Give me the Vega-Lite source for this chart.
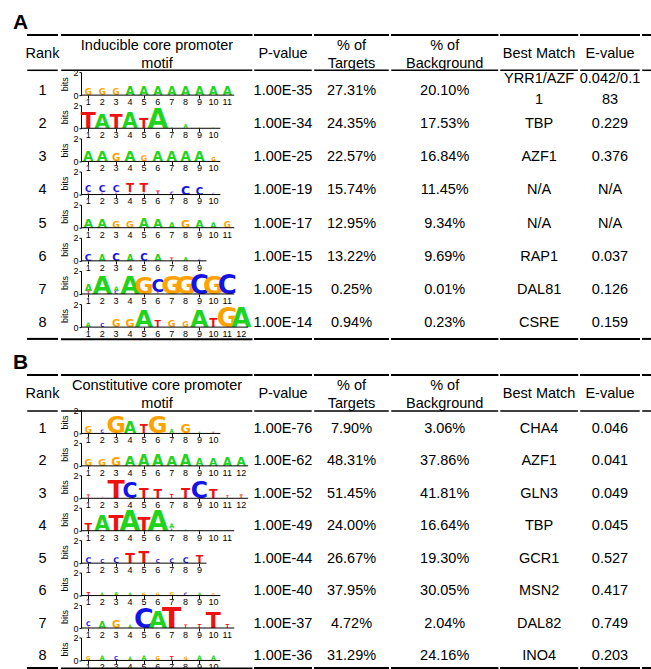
{
"$schema":"https://vega.github.io/schema/vega-lite/v6.json",
"padding":{"left":13,"top":11,"right":0,"bottom":0},
"spacing":10,
"config":{"view":{"stroke":null},"font":"Liberation Sans","text":{"fontSize":14.5,"color":"black"},"rule":{"color":"black"},
 "axis":{"grid":false,"labelFontSize":9,"labelColor":"black","tickColor":"black","domainColor":"black","titleColor":"black","labelFont":"Liberation Sans","titleFont":"Liberation Sans","titleFontSize":9,"titleFontWeight":"normal","tickSize":3,"labelPadding":0},
 "axisX":{"domain":false,"labels":false},
 "axisY":{"offset":-15,"titlePadding":3,"tickSize":2,"labelPadding":1}},
"datasets":{
"rowsA":[
{"rank":1,"p":"1.00E-35","t":"27.31%","bg":"20.10%","m":"YRR1/AZF\n1","e":"0.042/0.1\n83"},
{"rank":2,"p":"1.00E-34","t":"24.35%","bg":"17.53%","m":"TBP","e":"0.229"},
{"rank":3,"p":"1.00E-25","t":"22.57%","bg":"16.84%","m":"AZF1","e":"0.376"},
{"rank":4,"p":"1.00E-19","t":"15.74%","bg":"11.45%","m":"N/A","e":"N/A"},
{"rank":5,"p":"1.00E-17","t":"12.95%","bg":"9.34%","m":"N/A","e":"N/A"},
{"rank":6,"p":"1.00E-15","t":"13.22%","bg":"9.69%","m":"RAP1","e":"0.037"},
{"rank":7,"p":"1.00E-15","t":"0.25%","bg":"0.01%","m":"DAL81","e":"0.126"},
{"rank":8,"p":"1.00E-14","t":"0.94%","bg":"0.23%","m":"CSRE","e":"0.159"}],
"rowsB":[
{"rank":1,"p":"1.00E-76","t":"7.90%","bg":"3.06%","m":"CHA4","e":"0.046"},
{"rank":2,"p":"1.00E-62","t":"48.31%","bg":"37.86%","m":"AZF1","e":"0.041"},
{"rank":3,"p":"1.00E-52","t":"51.45%","bg":"41.81%","m":"GLN3","e":"0.049"},
{"rank":4,"p":"1.00E-49","t":"24.00%","bg":"16.64%","m":"TBP","e":"0.045"},
{"rank":5,"p":"1.00E-44","t":"26.67%","bg":"19.30%","m":"GCR1","e":"0.527"},
{"rank":6,"p":"1.00E-40","t":"37.95%","bg":"30.05%","m":"MSN2","e":"0.417"},
{"rank":7,"p":"1.00E-37","t":"4.72%","bg":"2.04%","m":"DAL82","e":"0.749"},
{"rank":8,"p":"1.00E-36","t":"31.29%","bg":"24.16%","m":"INO4","e":"0.203"}],
"lettersA":[
{"rank":1,"pos":1,"letter":"G","bits":0.55},{"rank":1,"pos":2,"letter":"G","bits":0.55},{"rank":1,"pos":3,"letter":"G","bits":0.55},
{"rank":1,"pos":4,"letter":"A","bits":0.75},{"rank":1,"pos":5,"letter":"A","bits":0.75},{"rank":1,"pos":6,"letter":"A","bits":0.75},
{"rank":1,"pos":7,"letter":"A","bits":0.75},{"rank":1,"pos":8,"letter":"A","bits":0.75},{"rank":1,"pos":9,"letter":"A","bits":0.75},
{"rank":1,"pos":10,"letter":"A","bits":0.75},{"rank":1,"pos":11,"letter":"A","bits":0.75},
{"rank":2,"pos":1,"letter":"T","bits":1.4},{"rank":2,"pos":2,"letter":"A","bits":1.25},{"rank":2,"pos":3,"letter":"T","bits":1.2},
{"rank":2,"pos":4,"letter":"A","bits":1.3},{"rank":2,"pos":5,"letter":"T","bits":0.85},{"rank":2,"pos":6,"letter":"A","bits":1.7},
{"rank":2,"pos":7,"letter":"A","bits":0.1},{"rank":2,"pos":8,"letter":"A","bits":0.35},{"rank":2,"pos":9,"letter":"G","bits":0.1},
{"rank":2,"pos":10,"letter":"G","bits":0.1},
{"rank":3,"pos":1,"letter":"A","bits":0.85},{"rank":3,"pos":2,"letter":"A","bits":0.9},{"rank":3,"pos":3,"letter":"G","bits":0.65},
{"rank":3,"pos":4,"letter":"A","bits":0.9},{"rank":3,"pos":5,"letter":"G","bits":0.5},{"rank":3,"pos":6,"letter":"A","bits":0.85},
{"rank":3,"pos":7,"letter":"A","bits":0.85},{"rank":3,"pos":8,"letter":"A","bits":0.85},{"rank":3,"pos":9,"letter":"A","bits":0.85},
{"rank":3,"pos":10,"letter":"G","bits":0.35},
{"rank":4,"pos":1,"letter":"C","bits":0.55},{"rank":4,"pos":1,"letter":"T","bits":0.2},
{"rank":4,"pos":2,"letter":"C","bits":0.6},{"rank":4,"pos":2,"letter":"T","bits":0.2},
{"rank":4,"pos":3,"letter":"C","bits":0.6},{"rank":4,"pos":3,"letter":"T","bits":0.2},
{"rank":4,"pos":4,"letter":"T","bits":0.75},{"rank":4,"pos":4,"letter":"C","bits":0.2},
{"rank":4,"pos":5,"letter":"T","bits":0.8},{"rank":4,"pos":5,"letter":"C","bits":0.2},
{"rank":4,"pos":6,"letter":"T","bits":0.4},{"rank":4,"pos":7,"letter":"C","bits":0.3},
{"rank":4,"pos":8,"letter":"C","bits":0.8},{"rank":4,"pos":9,"letter":"C","bits":0.65},{"rank":4,"pos":10,"letter":"C","bits":0.2},
{"rank":5,"pos":1,"letter":"A","bits":0.8},{"rank":5,"pos":2,"letter":"A","bits":0.8},{"rank":5,"pos":3,"letter":"G","bits":0.6},
{"rank":5,"pos":4,"letter":"G","bits":0.6},{"rank":5,"pos":5,"letter":"A","bits":0.85},{"rank":5,"pos":6,"letter":"A","bits":0.8},
{"rank":5,"pos":7,"letter":"A","bits":0.5},{"rank":5,"pos":8,"letter":"G","bits":0.7},{"rank":5,"pos":9,"letter":"A","bits":0.7},
{"rank":5,"pos":10,"letter":"A","bits":0.5},{"rank":5,"pos":11,"letter":"G","bits":0.55},
{"rank":6,"pos":1,"letter":"C","bits":0.6},{"rank":6,"pos":2,"letter":"A","bits":0.55},{"rank":6,"pos":3,"letter":"C","bits":0.65},
{"rank":6,"pos":4,"letter":"A","bits":0.55},{"rank":6,"pos":5,"letter":"C","bits":0.65},{"rank":6,"pos":6,"letter":"A","bits":0.6},
{"rank":6,"pos":7,"letter":"T","bits":0.3},{"rank":6,"pos":8,"letter":"A","bits":0.35},{"rank":6,"pos":9,"letter":"C","bits":0.2},
{"rank":7,"pos":1,"letter":"A","bits":0.6},{"rank":7,"pos":1,"letter":"T","bits":0.3},
{"rank":7,"pos":2,"letter":"A","bits":1.6},
{"rank":7,"pos":3,"letter":"A","bits":0.4},{"rank":7,"pos":3,"letter":"C","bits":0.3},
{"rank":7,"pos":4,"letter":"A","bits":1.6},{"rank":7,"pos":5,"letter":"G","bits":1.5},
{"rank":7,"pos":6,"letter":"C","bits":1.1},{"rank":7,"pos":6,"letter":"T","bits":0.2},
{"rank":7,"pos":7,"letter":"G","bits":1.6},{"rank":7,"pos":8,"letter":"G","bits":1.6},{"rank":7,"pos":9,"letter":"C","bits":1.65},
{"rank":7,"pos":10,"letter":"G","bits":1.6},{"rank":7,"pos":11,"letter":"C","bits":1.65},
{"rank":8,"pos":1,"letter":"A","bits":0.4},{"rank":8,"pos":2,"letter":"C","bits":0.35},{"rank":8,"pos":3,"letter":"G","bits":0.65},
{"rank":8,"pos":4,"letter":"G","bits":0.7},{"rank":8,"pos":5,"letter":"A","bits":1.5},{"rank":8,"pos":6,"letter":"T","bits":0.6},
{"rank":8,"pos":7,"letter":"G","bits":0.6},{"rank":8,"pos":8,"letter":"G","bits":0.5},{"rank":8,"pos":9,"letter":"A","bits":1.5},
{"rank":8,"pos":10,"letter":"T","bits":0.75},{"rank":8,"pos":11,"letter":"G","bits":1.65},{"rank":8,"pos":12,"letter":"A","bits":1.65}],
"lettersB":[
{"rank":1,"pos":1,"letter":"G","bits":0.55},{"rank":1,"pos":2,"letter":"C","bits":0.3},{"rank":1,"pos":3,"letter":"G","bits":1.5},
{"rank":1,"pos":4,"letter":"A","bits":1.0},{"rank":1,"pos":5,"letter":"T","bits":0.75},{"rank":1,"pos":6,"letter":"G","bits":1.5},
{"rank":1,"pos":7,"letter":"A","bits":0.35},{"rank":1,"pos":8,"letter":"G","bits":0.8},{"rank":1,"pos":9,"letter":"A","bits":0.15},
{"rank":1,"pos":10,"letter":"T","bits":0.2},
{"rank":2,"pos":1,"letter":"G","bits":0.6},{"rank":2,"pos":2,"letter":"G","bits":0.6},{"rank":2,"pos":3,"letter":"G","bits":0.75},
{"rank":2,"pos":4,"letter":"A","bits":0.9},{"rank":2,"pos":5,"letter":"A","bits":0.95},{"rank":2,"pos":6,"letter":"A","bits":0.95},
{"rank":2,"pos":7,"letter":"A","bits":0.9},{"rank":2,"pos":8,"letter":"A","bits":0.95},{"rank":2,"pos":9,"letter":"A","bits":0.65},
{"rank":2,"pos":10,"letter":"A","bits":0.7},{"rank":2,"pos":11,"letter":"A","bits":0.75},{"rank":2,"pos":12,"letter":"A","bits":0.8},
{"rank":3,"pos":1,"letter":"T","bits":0.3},{"rank":3,"pos":2,"letter":"T","bits":0.1},{"rank":3,"pos":3,"letter":"T","bits":1.6},
{"rank":3,"pos":4,"letter":"C","bits":1.3},{"rank":3,"pos":5,"letter":"T","bits":0.9},{"rank":3,"pos":6,"letter":"T","bits":0.8},
{"rank":3,"pos":7,"letter":"T","bits":0.35},{"rank":3,"pos":8,"letter":"T","bits":0.85},{"rank":3,"pos":9,"letter":"C","bits":1.5},
{"rank":3,"pos":10,"letter":"T","bits":0.8},{"rank":3,"pos":11,"letter":"T","bits":0.25},{"rank":3,"pos":12,"letter":"T","bits":0.3},
{"rank":4,"pos":1,"letter":"T","bits":0.7},{"rank":4,"pos":2,"letter":"A","bits":1.3},{"rank":4,"pos":3,"letter":"T","bits":1.4},
{"rank":4,"pos":4,"letter":"A","bits":1.75},{"rank":4,"pos":5,"letter":"T","bits":1.2},{"rank":4,"pos":6,"letter":"A","bits":1.75},
{"rank":4,"pos":7,"letter":"A","bits":0.4},{"rank":4,"pos":7,"letter":"T","bits":0.2},
{"rank":4,"pos":8,"letter":"A","bits":0.15},{"rank":4,"pos":9,"letter":"A","bits":0.12},{"rank":4,"pos":10,"letter":"A","bits":0.12},
{"rank":4,"pos":11,"letter":"A","bits":0.12},
{"rank":5,"pos":1,"letter":"C","bits":0.5},{"rank":5,"pos":2,"letter":"C","bits":0.35},{"rank":5,"pos":3,"letter":"C","bits":0.5},
{"rank":5,"pos":4,"letter":"T","bits":0.9},{"rank":5,"pos":5,"letter":"T","bits":1.0},{"rank":5,"pos":6,"letter":"C","bits":0.35},
{"rank":5,"pos":7,"letter":"C","bits":0.4},{"rank":5,"pos":8,"letter":"C","bits":0.5},{"rank":5,"pos":9,"letter":"T","bits":0.7},
{"rank":6,"pos":1,"letter":"T","bits":0.35},{"rank":6,"pos":2,"letter":"A","bits":0.3},{"rank":6,"pos":3,"letter":"A","bits":0.35},
{"rank":6,"pos":4,"letter":"A","bits":0.3},{"rank":6,"pos":5,"letter":"G","bits":0.3},{"rank":6,"pos":6,"letter":"G","bits":0.3},
{"rank":6,"pos":7,"letter":"G","bits":0.35},{"rank":6,"pos":8,"letter":"C","bits":0.3},{"rank":6,"pos":9,"letter":"A","bits":0.3},
{"rank":6,"pos":10,"letter":"G","bits":0.25},
{"rank":7,"pos":1,"letter":"C","bits":0.4},{"rank":7,"pos":1,"letter":"T","bits":0.15},
{"rank":7,"pos":2,"letter":"A","bits":0.6},{"rank":7,"pos":3,"letter":"G","bits":0.65},{"rank":7,"pos":4,"letter":"A","bits":0.3},
{"rank":7,"pos":5,"letter":"C","bits":1.7},{"rank":7,"pos":6,"letter":"A","bits":1.5},{"rank":7,"pos":7,"letter":"T","bits":1.8},
{"rank":7,"pos":8,"letter":"T","bits":0.3},{"rank":7,"pos":9,"letter":"T","bits":0.35},{"rank":7,"pos":10,"letter":"T","bits":1.4},
{"rank":7,"pos":11,"letter":"T","bits":0.35},
{"rank":8,"pos":1,"letter":"G","bits":0.35},{"rank":8,"pos":2,"letter":"A","bits":0.4},{"rank":8,"pos":3,"letter":"C","bits":0.35},
{"rank":8,"pos":4,"letter":"A","bits":0.3},{"rank":8,"pos":5,"letter":"A","bits":0.4},{"rank":8,"pos":6,"letter":"G","bits":0.35},
{"rank":8,"pos":7,"letter":"T","bits":0.35},{"rank":8,"pos":8,"letter":"G","bits":0.3},{"rank":8,"pos":9,"letter":"A","bits":0.4},
{"rank":8,"pos":10,"letter":"A","bits":0.4}]
},
"vconcat":[
{"title":{"text":"A","anchor":"start","frame":"group","fontSize":21,"fontWeight":"bold","dx":-15,"offset":1},
 "spacing":0,
 "hconcat":[
  {"width":29,"height":303.9,"layer":[
    {"data":{"values":[{}]},"layer":[
      {"mark":{"type":"rule","strokeWidth":2,"strokeCap":"square"},"encoding":{"y":{"datum":-0.69,"type":"quantitative","scale":{"domain":[-0.69,8.48],"reverse":true,"nice":false,"zero":false},"axis":null}}},
      {"mark":{"type":"rule","strokeWidth":1.5,"strokeCap":"square"},"encoding":{"y":{"datum":0.375,"type":"quantitative","axis":null}}},
      {"mark":{"type":"rule","strokeWidth":2,"strokeCap":"square"},"encoding":{"y":{"datum":8.48,"type":"quantitative","axis":null}}},
      {"mark":{"type":"text"},"encoding":{"y":{"datum":-0.107,"type":"quantitative","axis":null},"text":{"value":"Rank"}}}]},
    {"data":{"name":"rowsA"},"mark":{"type":"text"},"encoding":{"y":{"field":"rank","type":"quantitative","axis":null},"text":{"field":"rank"}}}]},
  {"spacing":10.14,"bounds":"flush","vconcat":[
    {"width":182,"height":26.86,"data":{"values":[{}]},"layer":[
      {"mark":{"type":"rule","strokeWidth":2,"strokeCap":"square"},"encoding":{"x":{"datum":-0.892,"type":"quantitative","scale":{"domain":[-0.604,12.49],"nice":false,"zero":false},"axis":null},"x2":{"datum":12.741},"y":{"datum":-0.69,"type":"quantitative","scale":{"domain":[-0.69,0.1205],"reverse":true,"nice":false,"zero":false},"axis":null}}},
      {"mark":{"type":"rule","strokeWidth":1.5,"strokeCap":"square"},"encoding":{"x":{"datum":-0.892,"type":"quantitative","axis":null},"x2":{"datum":12.741},"y":{"datum":0.375,"type":"quantitative","axis":null}}},
      {"mark":{"type":"text","lineHeight":18},"encoding":{"y":{"datum":-0.358,"type":"quantitative","axis":null},"text":{"value":["Inducible core promoter","motif"]}}}]},
    {"width":182,"height":23,"layer":[
      {"data":{"name":"lettersA"},"transform":[{"filter":"datum.rank == 1"},{"stack":"bits","groupby":["pos"],"sort":[{"field":"bits","order":"ascending"}],"as":["b0","b1"]}],
       "mark":{"type":"text","baseline":"alphabetic","fontWeight":"bold","font":"DejaVu Sans"},
       "encoding":{"x":{"field":"pos","type":"quantitative","scale":{"domain":[-0.604,12.49],"nice":false,"zero":false},"axis":{"values":[1,2,3,4,5,6,7,8,9,10,11],"title":null}},
        "y":{"field":"b0","type":"quantitative","scale":{"domain":[0,2],"nice":false},"axis":{"values":[0,1,2],"title":"bits"}},
        "text":{"field":"letter"},"size":{"field":"bits","type":"quantitative","scale":{"domain":[0,2],"range":[0,31.5]},"legend":null},
        "color":{"field":"letter","type":"nominal","scale":{"domain":["A","C","G","T"],"range":["#1ed41e","#1414e6","#ffa200","#ee1111"]},"legend":null}}},
      {"data":{"name":"lettersA"},"transform":[{"filter":"datum.rank == 1"},{"aggregate":[{"op":"count","as":"n"}],"groupby":["pos"]}],
       "mark":{"type":"text","fontSize":9,"baseline":"top"},"encoding":{"x":{"field":"pos","type":"quantitative","title":null},"y":{"datum":-0.25},"text":{"field":"pos"}}},
      {"data":{"values":[{}]},"mark":{"type":"rule","strokeWidth":1},"encoding":{"x":{"datum":0.475},"x2":{"datum":11.5},"y":{"datum":0}}}]},
    {"width":182,"height":23,"layer":[
      {"data":{"name":"lettersA"},"transform":[{"filter":"datum.rank == 2"},{"stack":"bits","groupby":["pos"],"sort":[{"field":"bits","order":"ascending"}],"as":["b0","b1"]}],
       "mark":{"type":"text","baseline":"alphabetic","fontWeight":"bold","font":"DejaVu Sans"},
       "encoding":{"x":{"field":"pos","type":"quantitative","scale":{"domain":[-0.604,12.49],"nice":false,"zero":false},"axis":{"values":[1,2,3,4,5,6,7,8,9,10],"title":null}},
        "y":{"field":"b0","type":"quantitative","scale":{"domain":[0,2],"nice":false},"axis":{"values":[0,1,2],"title":"bits"}},
        "text":{"field":"letter"},"size":{"field":"bits","type":"quantitative","scale":{"domain":[0,2],"range":[0,31.5]},"legend":null},
        "color":{"field":"letter","type":"nominal","scale":{"domain":["A","C","G","T"],"range":["#1ed41e","#1414e6","#ffa200","#ee1111"]},"legend":null}}},
      {"data":{"name":"lettersA"},"transform":[{"filter":"datum.rank == 2"},{"aggregate":[{"op":"count","as":"n"}],"groupby":["pos"]}],
       "mark":{"type":"text","fontSize":9,"baseline":"top"},"encoding":{"x":{"field":"pos","type":"quantitative","title":null},"y":{"datum":-0.25},"text":{"field":"pos"}}},
      {"data":{"values":[{}]},"mark":{"type":"rule","strokeWidth":1},"encoding":{"x":{"datum":0.475},"x2":{"datum":10.5},"y":{"datum":0}}}]},
    {"width":182,"height":23,"layer":[
      {"data":{"name":"lettersA"},"transform":[{"filter":"datum.rank == 3"},{"stack":"bits","groupby":["pos"],"sort":[{"field":"bits","order":"ascending"}],"as":["b0","b1"]}],
       "mark":{"type":"text","baseline":"alphabetic","fontWeight":"bold","font":"DejaVu Sans"},
       "encoding":{"x":{"field":"pos","type":"quantitative","scale":{"domain":[-0.604,12.49],"nice":false,"zero":false},"axis":{"values":[1,2,3,4,5,6,7,8,9,10],"title":null}},
        "y":{"field":"b0","type":"quantitative","scale":{"domain":[0,2],"nice":false},"axis":{"values":[0,1,2],"title":"bits"}},
        "text":{"field":"letter"},"size":{"field":"bits","type":"quantitative","scale":{"domain":[0,2],"range":[0,31.5]},"legend":null},
        "color":{"field":"letter","type":"nominal","scale":{"domain":["A","C","G","T"],"range":["#1ed41e","#1414e6","#ffa200","#ee1111"]},"legend":null}}},
      {"data":{"name":"lettersA"},"transform":[{"filter":"datum.rank == 3"},{"aggregate":[{"op":"count","as":"n"}],"groupby":["pos"]}],
       "mark":{"type":"text","fontSize":9,"baseline":"top"},"encoding":{"x":{"field":"pos","type":"quantitative","title":null},"y":{"datum":-0.25},"text":{"field":"pos"}}},
      {"data":{"values":[{}]},"mark":{"type":"rule","strokeWidth":1},"encoding":{"x":{"datum":0.475},"x2":{"datum":10.5},"y":{"datum":0}}}]},
    {"width":182,"height":23,"layer":[
      {"data":{"name":"lettersA"},"transform":[{"filter":"datum.rank == 4"},{"stack":"bits","groupby":["pos"],"sort":[{"field":"bits","order":"ascending"}],"as":["b0","b1"]}],
       "mark":{"type":"text","baseline":"alphabetic","fontWeight":"bold","font":"DejaVu Sans"},
       "encoding":{"x":{"field":"pos","type":"quantitative","scale":{"domain":[-0.604,12.49],"nice":false,"zero":false},"axis":{"values":[1,2,3,4,5,6,7,8,9,10],"title":null}},
        "y":{"field":"b0","type":"quantitative","scale":{"domain":[0,2],"nice":false},"axis":{"values":[0,1,2],"title":"bits"}},
        "text":{"field":"letter"},"size":{"field":"bits","type":"quantitative","scale":{"domain":[0,2],"range":[0,31.5]},"legend":null},
        "color":{"field":"letter","type":"nominal","scale":{"domain":["A","C","G","T"],"range":["#1ed41e","#1414e6","#ffa200","#ee1111"]},"legend":null}}},
      {"data":{"name":"lettersA"},"transform":[{"filter":"datum.rank == 4"},{"aggregate":[{"op":"count","as":"n"}],"groupby":["pos"]}],
       "mark":{"type":"text","fontSize":9,"baseline":"top"},"encoding":{"x":{"field":"pos","type":"quantitative","title":null},"y":{"datum":-0.25},"text":{"field":"pos"}}},
      {"data":{"values":[{}]},"mark":{"type":"rule","strokeWidth":1},"encoding":{"x":{"datum":0.475},"x2":{"datum":10.5},"y":{"datum":0}}}]},
    {"width":182,"height":23,"layer":[
      {"data":{"name":"lettersA"},"transform":[{"filter":"datum.rank == 5"},{"stack":"bits","groupby":["pos"],"sort":[{"field":"bits","order":"ascending"}],"as":["b0","b1"]}],
       "mark":{"type":"text","baseline":"alphabetic","fontWeight":"bold","font":"DejaVu Sans"},
       "encoding":{"x":{"field":"pos","type":"quantitative","scale":{"domain":[-0.604,12.49],"nice":false,"zero":false},"axis":{"values":[1,2,3,4,5,6,7,8,9,10,11],"title":null}},
        "y":{"field":"b0","type":"quantitative","scale":{"domain":[0,2],"nice":false},"axis":{"values":[0,1,2],"title":"bits"}},
        "text":{"field":"letter"},"size":{"field":"bits","type":"quantitative","scale":{"domain":[0,2],"range":[0,31.5]},"legend":null},
        "color":{"field":"letter","type":"nominal","scale":{"domain":["A","C","G","T"],"range":["#1ed41e","#1414e6","#ffa200","#ee1111"]},"legend":null}}},
      {"data":{"name":"lettersA"},"transform":[{"filter":"datum.rank == 5"},{"aggregate":[{"op":"count","as":"n"}],"groupby":["pos"]}],
       "mark":{"type":"text","fontSize":9,"baseline":"top"},"encoding":{"x":{"field":"pos","type":"quantitative","title":null},"y":{"datum":-0.25},"text":{"field":"pos"}}},
      {"data":{"values":[{}]},"mark":{"type":"rule","strokeWidth":1},"encoding":{"x":{"datum":0.475},"x2":{"datum":11.5},"y":{"datum":0}}}]},
    {"width":182,"height":23,"layer":[
      {"data":{"name":"lettersA"},"transform":[{"filter":"datum.rank == 6"},{"stack":"bits","groupby":["pos"],"sort":[{"field":"bits","order":"ascending"}],"as":["b0","b1"]}],
       "mark":{"type":"text","baseline":"alphabetic","fontWeight":"bold","font":"DejaVu Sans"},
       "encoding":{"x":{"field":"pos","type":"quantitative","scale":{"domain":[-0.604,12.49],"nice":false,"zero":false},"axis":{"values":[1,2,3,4,5,6,7,8,9],"title":null}},
        "y":{"field":"b0","type":"quantitative","scale":{"domain":[0,2],"nice":false},"axis":{"values":[0,1,2],"title":"bits"}},
        "text":{"field":"letter"},"size":{"field":"bits","type":"quantitative","scale":{"domain":[0,2],"range":[0,31.5]},"legend":null},
        "color":{"field":"letter","type":"nominal","scale":{"domain":["A","C","G","T"],"range":["#1ed41e","#1414e6","#ffa200","#ee1111"]},"legend":null}}},
      {"data":{"name":"lettersA"},"transform":[{"filter":"datum.rank == 6"},{"aggregate":[{"op":"count","as":"n"}],"groupby":["pos"]}],
       "mark":{"type":"text","fontSize":9,"baseline":"top"},"encoding":{"x":{"field":"pos","type":"quantitative","title":null},"y":{"datum":-0.25},"text":{"field":"pos"}}},
      {"data":{"values":[{}]},"mark":{"type":"rule","strokeWidth":1},"encoding":{"x":{"datum":0.475},"x2":{"datum":9.5},"y":{"datum":0}}}]},
    {"width":182,"height":23,"layer":[
      {"data":{"name":"lettersA"},"transform":[{"filter":"datum.rank == 7"},{"stack":"bits","groupby":["pos"],"sort":[{"field":"bits","order":"ascending"}],"as":["b0","b1"]}],
       "mark":{"type":"text","baseline":"alphabetic","fontWeight":"bold","font":"DejaVu Sans"},
       "encoding":{"x":{"field":"pos","type":"quantitative","scale":{"domain":[-0.604,12.49],"nice":false,"zero":false},"axis":{"values":[1,2,3,4,5,6,7,8,9,10,11],"title":null}},
        "y":{"field":"b0","type":"quantitative","scale":{"domain":[0,2],"nice":false},"axis":{"values":[0,1,2],"title":"bits"}},
        "text":{"field":"letter"},"size":{"field":"bits","type":"quantitative","scale":{"domain":[0,2],"range":[0,31.5]},"legend":null},
        "color":{"field":"letter","type":"nominal","scale":{"domain":["A","C","G","T"],"range":["#1ed41e","#1414e6","#ffa200","#ee1111"]},"legend":null}}},
      {"data":{"name":"lettersA"},"transform":[{"filter":"datum.rank == 7"},{"aggregate":[{"op":"count","as":"n"}],"groupby":["pos"]}],
       "mark":{"type":"text","fontSize":9,"baseline":"top"},"encoding":{"x":{"field":"pos","type":"quantitative","title":null},"y":{"datum":-0.25},"text":{"field":"pos"}}},
      {"data":{"values":[{}]},"mark":{"type":"rule","strokeWidth":1},"encoding":{"x":{"datum":0.475},"x2":{"datum":11.5},"y":{"datum":0}}}]},
    {"width":182,"height":23,"layer":[
      {"data":{"name":"lettersA"},"transform":[{"filter":"datum.rank == 8"},{"stack":"bits","groupby":["pos"],"sort":[{"field":"bits","order":"ascending"}],"as":["b0","b1"]}],
       "mark":{"type":"text","baseline":"alphabetic","fontWeight":"bold","font":"DejaVu Sans"},
       "encoding":{"x":{"field":"pos","type":"quantitative","scale":{"domain":[-0.604,12.49],"nice":false,"zero":false},"axis":{"values":[1,2,3,4,5,6,7,8,9,10,11,12],"title":null}},
        "y":{"field":"b0","type":"quantitative","scale":{"domain":[0,2],"nice":false},"axis":{"values":[0,1,2],"title":"bits"}},
        "text":{"field":"letter"},"size":{"field":"bits","type":"quantitative","scale":{"domain":[0,2],"range":[0,31.5]},"legend":null},
        "color":{"field":"letter","type":"nominal","scale":{"domain":["A","C","G","T"],"range":["#1ed41e","#1414e6","#ffa200","#ee1111"]},"legend":null}}},
      {"data":{"name":"lettersA"},"transform":[{"filter":"datum.rank == 8"},{"aggregate":[{"op":"count","as":"n"}],"groupby":["pos"]}],
       "mark":{"type":"text","fontSize":9,"baseline":"top"},"encoding":{"x":{"field":"pos","type":"quantitative","title":null},"y":{"datum":-0.25},"text":{"field":"pos"}}},
      {"data":{"values":[{}]},"mark":{"type":"rule","strokeWidth":1},"encoding":{"x":{"datum":0.475},"x2":{"datum":12.5},"y":{"datum":0}}},
      {"data":{"values":[{}]},"mark":{"type":"rule","strokeWidth":2,"strokeCap":"square"},"encoding":{"x":{"datum":-0.892},"x2":{"datum":12.741},"y":{"datum":-1.045}}}]}
  ]},
  {"width":56,"height":303.9,"layer":[
    {"data":{"values":[{}]},"layer":[
      {"mark":{"type":"rule","strokeWidth":2,"strokeCap":"square"},"encoding":{"y":{"datum":-0.69,"type":"quantitative","scale":{"domain":[-0.69,8.48],"reverse":true,"nice":false,"zero":false},"axis":null}}},
      {"mark":{"type":"rule","strokeWidth":1.5,"strokeCap":"square"},"encoding":{"y":{"datum":0.375,"type":"quantitative","axis":null}}},
      {"mark":{"type":"rule","strokeWidth":2,"strokeCap":"square"},"encoding":{"y":{"datum":8.48,"type":"quantitative","axis":null}}},
      {"mark":{"type":"text"},"encoding":{"y":{"datum":-0.107,"type":"quantitative","axis":null},"text":{"value":"P-value"}}}]},
    {"data":{"name":"rowsA"},"mark":{"type":"text"},"encoding":{"y":{"field":"rank","type":"quantitative","axis":null},"text":{"field":"p"}}}]},
  {"width":73,"height":303.9,"layer":[
    {"data":{"values":[{}]},"layer":[
      {"mark":{"type":"rule","strokeWidth":2,"strokeCap":"square"},"encoding":{"y":{"datum":-0.69,"type":"quantitative","scale":{"domain":[-0.69,8.48],"reverse":true,"nice":false,"zero":false},"axis":null}}},
      {"mark":{"type":"rule","strokeWidth":1.5,"strokeCap":"square"},"encoding":{"y":{"datum":0.375,"type":"quantitative","axis":null}}},
      {"mark":{"type":"rule","strokeWidth":2,"strokeCap":"square"},"encoding":{"y":{"datum":8.48,"type":"quantitative","axis":null}}},
      {"mark":{"type":"text","lineHeight":18},"encoding":{"y":{"datum":-0.358,"type":"quantitative","axis":null},"text":{"value":["% of","Targets"]}}}]},
    {"data":{"name":"rowsA"},"mark":{"type":"text"},"encoding":{"y":{"field":"rank","type":"quantitative","axis":null},"text":{"field":"t"}}}]},
  {"width":105.4,"height":303.9,"layer":[
    {"data":{"values":[{}]},"layer":[
      {"mark":{"type":"rule","strokeWidth":2,"strokeCap":"square"},"encoding":{"y":{"datum":-0.69,"type":"quantitative","scale":{"domain":[-0.69,8.48],"reverse":true,"nice":false,"zero":false},"axis":null}}},
      {"mark":{"type":"rule","strokeWidth":1.5,"strokeCap":"square"},"encoding":{"y":{"datum":0.375,"type":"quantitative","axis":null}}},
      {"mark":{"type":"rule","strokeWidth":2,"strokeCap":"square"},"encoding":{"y":{"datum":8.48,"type":"quantitative","axis":null}}},
      {"mark":{"type":"text","lineHeight":18},"encoding":{"y":{"datum":-0.358,"type":"quantitative","axis":null},"text":{"value":["% of","Background"]}}}]},
    {"data":{"name":"rowsA"},"mark":{"type":"text"},"encoding":{"y":{"field":"rank","type":"quantitative","axis":null},"text":{"field":"bg"}}}]},
  {"width":76.2,"height":303.9,"layer":[
    {"data":{"values":[{}]},"layer":[
      {"mark":{"type":"rule","strokeWidth":2,"strokeCap":"square"},"encoding":{"y":{"datum":-0.69,"type":"quantitative","scale":{"domain":[-0.69,8.48],"reverse":true,"nice":false,"zero":false},"axis":null}}},
      {"mark":{"type":"rule","strokeWidth":1.5,"strokeCap":"square"},"encoding":{"y":{"datum":0.375,"type":"quantitative","axis":null}}},
      {"mark":{"type":"rule","strokeWidth":2,"strokeCap":"square"},"encoding":{"y":{"datum":8.48,"type":"quantitative","axis":null}}},
      {"mark":{"type":"text"},"encoding":{"y":{"datum":-0.107,"type":"quantitative","axis":null},"text":{"value":"Best Match"}}}]},
    {"data":{"name":"rowsA"},"transform":[{"filter":"indexof(datum.m, '\\n') < 0"}],"mark":{"type":"text"},"encoding":{"y":{"field":"rank","type":"quantitative","axis":null},"text":{"field":"m"}}},
    {"data":{"name":"rowsA"},"transform":[{"filter":"indexof(datum.m, '\\n') >= 0"}],"mark":{"type":"text","lineBreak":"\n","lineHeight":21,"dy":-12},"encoding":{"y":{"field":"rank","type":"quantitative","axis":null},"text":{"field":"m"}}}]},
  {"width":58,"height":303.9,"layer":[
    {"data":{"values":[{}]},"layer":[
      {"mark":{"type":"rule","strokeWidth":2,"strokeCap":"square"},"encoding":{"y":{"datum":-0.69,"type":"quantitative","scale":{"domain":[-0.69,8.48],"reverse":true,"nice":false,"zero":false},"axis":null}}},
      {"mark":{"type":"rule","strokeWidth":1.5,"strokeCap":"square"},"encoding":{"y":{"datum":0.375,"type":"quantitative","axis":null}}},
      {"mark":{"type":"rule","strokeWidth":2,"strokeCap":"square"},"encoding":{"y":{"datum":8.48,"type":"quantitative","axis":null}}},
      {"mark":{"type":"text"},"encoding":{"y":{"datum":-0.107,"type":"quantitative","axis":null},"text":{"value":"E-value"}}}]},
    {"data":{"name":"rowsA"},"transform":[{"filter":"indexof(datum.e, '\\n') < 0"}],"mark":{"type":"text"},"encoding":{"y":{"field":"rank","type":"quantitative","axis":null},"text":{"field":"e"}}},
    {"data":{"name":"rowsA"},"transform":[{"filter":"indexof(datum.e, '\\n') >= 0"}],"mark":{"type":"text","lineBreak":"\n","lineHeight":21,"dy":-12},"encoding":{"y":{"field":"rank","type":"quantitative","axis":null},"text":{"field":"e"}}}]},
  {"width":22.1,"height":303.9,"data":{"values":[{}]},"layer":[
      {"mark":{"type":"rule","strokeWidth":2,"strokeCap":"square"},"encoding":{"y":{"datum":-0.69,"type":"quantitative","scale":{"domain":[-0.69,8.48],"reverse":true,"nice":false,"zero":false},"axis":null}}},
      {"mark":{"type":"rule","strokeWidth":1.5,"strokeCap":"square"},"encoding":{"y":{"datum":0.375,"type":"quantitative","axis":null}}},
      {"mark":{"type":"rule","strokeWidth":2,"strokeCap":"square"},"encoding":{"y":{"datum":8.48,"type":"quantitative","axis":null}}}]}
 ]},
{"title":{"text":"B","anchor":"start","frame":"group","fontSize":21,"fontWeight":"bold","dx":-15,"offset":1},
 "spacing":0,
 "hconcat":[
  {"width":29,"height":293,"layer":[
    {"data":{"values":[{}]},"layer":[
      {"mark":{"type":"rule","strokeWidth":2,"strokeCap":"square"},"encoding":{"y":{"datum":-0.665,"type":"quantitative","scale":{"domain":[-0.665,8.37],"reverse":true,"nice":false,"zero":false},"axis":null}}},
      {"mark":{"type":"rule","strokeWidth":1.5,"strokeCap":"square"},"encoding":{"y":{"datum":0.445,"type":"quantitative","axis":null}}},
      {"mark":{"type":"rule","strokeWidth":2,"strokeCap":"square"},"encoding":{"y":{"datum":8.37,"type":"quantitative","axis":null}}},
      {"mark":{"type":"text"},"encoding":{"y":{"datum":-0.064,"type":"quantitative","axis":null},"text":{"value":"Rank"}}}]},
    {"data":{"name":"rowsB"},"mark":{"type":"text"},"encoding":{"y":{"field":"rank","type":"quantitative","axis":null},"text":{"field":"rank"}}}]},
  {"spacing":9.43,"bounds":"flush","vconcat":[
    {"width":182,"height":25.57,"data":{"values":[{}]},"layer":[
      {"mark":{"type":"rule","strokeWidth":2,"strokeCap":"square"},"encoding":{"x":{"datum":-0.892,"type":"quantitative","scale":{"domain":[-0.604,12.49],"nice":false,"zero":false},"axis":null},"x2":{"datum":12.741},"y":{"datum":-0.665,"type":"quantitative","scale":{"domain":[-0.665,0.1235],"reverse":true,"nice":false,"zero":false},"axis":null}}},
      {"mark":{"type":"rule","strokeWidth":1.5,"strokeCap":"square"},"encoding":{"x":{"datum":-0.892,"type":"quantitative","axis":null},"x2":{"datum":12.741},"y":{"datum":0.445,"type":"quantitative","axis":null}}},
      {"mark":{"type":"text","lineHeight":18},"encoding":{"y":{"datum":-0.326,"type":"quantitative","axis":null},"text":{"value":["Constitutive core promoter","motif"]}}}]},
    {"width":182,"height":23,"layer":[
      {"data":{"name":"lettersB"},"transform":[{"filter":"datum.rank == 1"},{"stack":"bits","groupby":["pos"],"sort":[{"field":"bits","order":"ascending"}],"as":["b0","b1"]}],
       "mark":{"type":"text","baseline":"alphabetic","fontWeight":"bold","font":"DejaVu Sans"},
       "encoding":{"x":{"field":"pos","type":"quantitative","scale":{"domain":[-0.604,12.49],"nice":false,"zero":false},"axis":{"values":[1,2,3,4,5,6,7,8,9,10],"title":null}},
        "y":{"field":"b0","type":"quantitative","scale":{"domain":[0,2],"nice":false},"axis":{"values":[0,1,2],"title":"bits"}},
        "text":{"field":"letter"},"size":{"field":"bits","type":"quantitative","scale":{"domain":[0,2],"range":[0,31.5]},"legend":null},
        "color":{"field":"letter","type":"nominal","scale":{"domain":["A","C","G","T"],"range":["#1ed41e","#1414e6","#ffa200","#ee1111"]},"legend":null}}},
      {"data":{"name":"lettersB"},"transform":[{"filter":"datum.rank == 1"},{"aggregate":[{"op":"count","as":"n"}],"groupby":["pos"]}],
       "mark":{"type":"text","fontSize":9,"baseline":"top"},"encoding":{"x":{"field":"pos","type":"quantitative","title":null},"y":{"datum":-0.25},"text":{"field":"pos"}}},
      {"data":{"values":[{}]},"mark":{"type":"rule","strokeWidth":1},"encoding":{"x":{"datum":0.475},"x2":{"datum":10.5},"y":{"datum":0}}}]},
    {"width":182,"height":23,"layer":[
      {"data":{"name":"lettersB"},"transform":[{"filter":"datum.rank == 2"},{"stack":"bits","groupby":["pos"],"sort":[{"field":"bits","order":"ascending"}],"as":["b0","b1"]}],
       "mark":{"type":"text","baseline":"alphabetic","fontWeight":"bold","font":"DejaVu Sans"},
       "encoding":{"x":{"field":"pos","type":"quantitative","scale":{"domain":[-0.604,12.49],"nice":false,"zero":false},"axis":{"values":[1,2,3,4,5,6,7,8,9,10,11,12],"title":null}},
        "y":{"field":"b0","type":"quantitative","scale":{"domain":[0,2],"nice":false},"axis":{"values":[0,1,2],"title":"bits"}},
        "text":{"field":"letter"},"size":{"field":"bits","type":"quantitative","scale":{"domain":[0,2],"range":[0,31.5]},"legend":null},
        "color":{"field":"letter","type":"nominal","scale":{"domain":["A","C","G","T"],"range":["#1ed41e","#1414e6","#ffa200","#ee1111"]},"legend":null}}},
      {"data":{"name":"lettersB"},"transform":[{"filter":"datum.rank == 2"},{"aggregate":[{"op":"count","as":"n"}],"groupby":["pos"]}],
       "mark":{"type":"text","fontSize":9,"baseline":"top"},"encoding":{"x":{"field":"pos","type":"quantitative","title":null},"y":{"datum":-0.25},"text":{"field":"pos"}}},
      {"data":{"values":[{}]},"mark":{"type":"rule","strokeWidth":1},"encoding":{"x":{"datum":0.475},"x2":{"datum":12.5},"y":{"datum":0}}}]},
    {"width":182,"height":23,"layer":[
      {"data":{"name":"lettersB"},"transform":[{"filter":"datum.rank == 3"},{"stack":"bits","groupby":["pos"],"sort":[{"field":"bits","order":"ascending"}],"as":["b0","b1"]}],
       "mark":{"type":"text","baseline":"alphabetic","fontWeight":"bold","font":"DejaVu Sans"},
       "encoding":{"x":{"field":"pos","type":"quantitative","scale":{"domain":[-0.604,12.49],"nice":false,"zero":false},"axis":{"values":[1,2,3,4,5,6,7,8,9,10,11,12],"title":null}},
        "y":{"field":"b0","type":"quantitative","scale":{"domain":[0,2],"nice":false},"axis":{"values":[0,1,2],"title":"bits"}},
        "text":{"field":"letter"},"size":{"field":"bits","type":"quantitative","scale":{"domain":[0,2],"range":[0,31.5]},"legend":null},
        "color":{"field":"letter","type":"nominal","scale":{"domain":["A","C","G","T"],"range":["#1ed41e","#1414e6","#ffa200","#ee1111"]},"legend":null}}},
      {"data":{"name":"lettersB"},"transform":[{"filter":"datum.rank == 3"},{"aggregate":[{"op":"count","as":"n"}],"groupby":["pos"]}],
       "mark":{"type":"text","fontSize":9,"baseline":"top"},"encoding":{"x":{"field":"pos","type":"quantitative","title":null},"y":{"datum":-0.25},"text":{"field":"pos"}}},
      {"data":{"values":[{}]},"mark":{"type":"rule","strokeWidth":1},"encoding":{"x":{"datum":0.475},"x2":{"datum":12.5},"y":{"datum":0}}}]},
    {"width":182,"height":23,"layer":[
      {"data":{"name":"lettersB"},"transform":[{"filter":"datum.rank == 4"},{"stack":"bits","groupby":["pos"],"sort":[{"field":"bits","order":"ascending"}],"as":["b0","b1"]}],
       "mark":{"type":"text","baseline":"alphabetic","fontWeight":"bold","font":"DejaVu Sans"},
       "encoding":{"x":{"field":"pos","type":"quantitative","scale":{"domain":[-0.604,12.49],"nice":false,"zero":false},"axis":{"values":[1,2,3,4,5,6,7,8,9,10,11],"title":null}},
        "y":{"field":"b0","type":"quantitative","scale":{"domain":[0,2],"nice":false},"axis":{"values":[0,1,2],"title":"bits"}},
        "text":{"field":"letter"},"size":{"field":"bits","type":"quantitative","scale":{"domain":[0,2],"range":[0,31.5]},"legend":null},
        "color":{"field":"letter","type":"nominal","scale":{"domain":["A","C","G","T"],"range":["#1ed41e","#1414e6","#ffa200","#ee1111"]},"legend":null}}},
      {"data":{"name":"lettersB"},"transform":[{"filter":"datum.rank == 4"},{"aggregate":[{"op":"count","as":"n"}],"groupby":["pos"]}],
       "mark":{"type":"text","fontSize":9,"baseline":"top"},"encoding":{"x":{"field":"pos","type":"quantitative","title":null},"y":{"datum":-0.25},"text":{"field":"pos"}}},
      {"data":{"values":[{}]},"mark":{"type":"rule","strokeWidth":1},"encoding":{"x":{"datum":0.475},"x2":{"datum":11.5},"y":{"datum":0}}}]},
    {"width":182,"height":23,"layer":[
      {"data":{"name":"lettersB"},"transform":[{"filter":"datum.rank == 5"},{"stack":"bits","groupby":["pos"],"sort":[{"field":"bits","order":"ascending"}],"as":["b0","b1"]}],
       "mark":{"type":"text","baseline":"alphabetic","fontWeight":"bold","font":"DejaVu Sans"},
       "encoding":{"x":{"field":"pos","type":"quantitative","scale":{"domain":[-0.604,12.49],"nice":false,"zero":false},"axis":{"values":[1,2,3,4,5,6,7,8,9],"title":null}},
        "y":{"field":"b0","type":"quantitative","scale":{"domain":[0,2],"nice":false},"axis":{"values":[0,1,2],"title":"bits"}},
        "text":{"field":"letter"},"size":{"field":"bits","type":"quantitative","scale":{"domain":[0,2],"range":[0,31.5]},"legend":null},
        "color":{"field":"letter","type":"nominal","scale":{"domain":["A","C","G","T"],"range":["#1ed41e","#1414e6","#ffa200","#ee1111"]},"legend":null}}},
      {"data":{"name":"lettersB"},"transform":[{"filter":"datum.rank == 5"},{"aggregate":[{"op":"count","as":"n"}],"groupby":["pos"]}],
       "mark":{"type":"text","fontSize":9,"baseline":"top"},"encoding":{"x":{"field":"pos","type":"quantitative","title":null},"y":{"datum":-0.25},"text":{"field":"pos"}}},
      {"data":{"values":[{}]},"mark":{"type":"rule","strokeWidth":1},"encoding":{"x":{"datum":0.475},"x2":{"datum":9.5},"y":{"datum":0}}}]},
    {"width":182,"height":23,"layer":[
      {"data":{"name":"lettersB"},"transform":[{"filter":"datum.rank == 6"},{"stack":"bits","groupby":["pos"],"sort":[{"field":"bits","order":"ascending"}],"as":["b0","b1"]}],
       "mark":{"type":"text","baseline":"alphabetic","fontWeight":"bold","font":"DejaVu Sans"},
       "encoding":{"x":{"field":"pos","type":"quantitative","scale":{"domain":[-0.604,12.49],"nice":false,"zero":false},"axis":{"values":[1,2,3,4,5,6,7,8,9,10],"title":null}},
        "y":{"field":"b0","type":"quantitative","scale":{"domain":[0,2],"nice":false},"axis":{"values":[0,1,2],"title":"bits"}},
        "text":{"field":"letter"},"size":{"field":"bits","type":"quantitative","scale":{"domain":[0,2],"range":[0,31.5]},"legend":null},
        "color":{"field":"letter","type":"nominal","scale":{"domain":["A","C","G","T"],"range":["#1ed41e","#1414e6","#ffa200","#ee1111"]},"legend":null}}},
      {"data":{"name":"lettersB"},"transform":[{"filter":"datum.rank == 6"},{"aggregate":[{"op":"count","as":"n"}],"groupby":["pos"]}],
       "mark":{"type":"text","fontSize":9,"baseline":"top"},"encoding":{"x":{"field":"pos","type":"quantitative","title":null},"y":{"datum":-0.25},"text":{"field":"pos"}}},
      {"data":{"values":[{}]},"mark":{"type":"rule","strokeWidth":1},"encoding":{"x":{"datum":0.475},"x2":{"datum":10.5},"y":{"datum":0}}}]},
    {"width":182,"height":23,"layer":[
      {"data":{"name":"lettersB"},"transform":[{"filter":"datum.rank == 7"},{"stack":"bits","groupby":["pos"],"sort":[{"field":"bits","order":"ascending"}],"as":["b0","b1"]}],
       "mark":{"type":"text","baseline":"alphabetic","fontWeight":"bold","font":"DejaVu Sans"},
       "encoding":{"x":{"field":"pos","type":"quantitative","scale":{"domain":[-0.604,12.49],"nice":false,"zero":false},"axis":{"values":[1,2,3,4,5,6,7,8,9,10,11],"title":null}},
        "y":{"field":"b0","type":"quantitative","scale":{"domain":[0,2],"nice":false},"axis":{"values":[0,1,2],"title":"bits"}},
        "text":{"field":"letter"},"size":{"field":"bits","type":"quantitative","scale":{"domain":[0,2],"range":[0,31.5]},"legend":null},
        "color":{"field":"letter","type":"nominal","scale":{"domain":["A","C","G","T"],"range":["#1ed41e","#1414e6","#ffa200","#ee1111"]},"legend":null}}},
      {"data":{"name":"lettersB"},"transform":[{"filter":"datum.rank == 7"},{"aggregate":[{"op":"count","as":"n"}],"groupby":["pos"]}],
       "mark":{"type":"text","fontSize":9,"baseline":"top"},"encoding":{"x":{"field":"pos","type":"quantitative","title":null},"y":{"datum":-0.25},"text":{"field":"pos"}}},
      {"data":{"values":[{}]},"mark":{"type":"rule","strokeWidth":1},"encoding":{"x":{"datum":0.475},"x2":{"datum":11.5},"y":{"datum":0}}}]},
    {"width":182,"height":23,"layer":[
      {"data":{"name":"lettersB"},"transform":[{"filter":"datum.rank == 8"},{"stack":"bits","groupby":["pos"],"sort":[{"field":"bits","order":"ascending"}],"as":["b0","b1"]}],
       "mark":{"type":"text","baseline":"alphabetic","fontWeight":"bold","font":"DejaVu Sans"},
       "encoding":{"x":{"field":"pos","type":"quantitative","scale":{"domain":[-0.604,12.49],"nice":false,"zero":false},"axis":{"values":[1,2,3,4,5,6,7,8,9,10],"title":null}},
        "y":{"field":"b0","type":"quantitative","scale":{"domain":[0,2],"nice":false},"axis":{"values":[0,1,2],"title":"bits"}},
        "text":{"field":"letter"},"size":{"field":"bits","type":"quantitative","scale":{"domain":[0,2],"range":[0,31.5]},"legend":null},
        "color":{"field":"letter","type":"nominal","scale":{"domain":["A","C","G","T"],"range":["#1ed41e","#1414e6","#ffa200","#ee1111"]},"legend":null}}},
      {"data":{"name":"lettersB"},"transform":[{"filter":"datum.rank == 8"},{"aggregate":[{"op":"count","as":"n"}],"groupby":["pos"]}],
       "mark":{"type":"text","fontSize":9,"baseline":"top"},"encoding":{"x":{"field":"pos","type":"quantitative","title":null},"y":{"datum":-0.25},"text":{"field":"pos"}}},
      {"data":{"values":[{}]},"mark":{"type":"rule","strokeWidth":1},"encoding":{"x":{"datum":0.475},"x2":{"datum":10.5},"y":{"datum":0}}},
      {"data":{"values":[{}]},"mark":{"type":"rule","strokeWidth":2,"strokeCap":"square"},"encoding":{"x":{"datum":-0.892},"x2":{"datum":12.741},"y":{"datum":-0.696}}}]}
  ]},
  {"width":56,"height":293,"layer":[
    {"data":{"values":[{}]},"layer":[
      {"mark":{"type":"rule","strokeWidth":2,"strokeCap":"square"},"encoding":{"y":{"datum":-0.665,"type":"quantitative","scale":{"domain":[-0.665,8.37],"reverse":true,"nice":false,"zero":false},"axis":null}}},
      {"mark":{"type":"rule","strokeWidth":1.5,"strokeCap":"square"},"encoding":{"y":{"datum":0.445,"type":"quantitative","axis":null}}},
      {"mark":{"type":"rule","strokeWidth":2,"strokeCap":"square"},"encoding":{"y":{"datum":8.37,"type":"quantitative","axis":null}}},
      {"mark":{"type":"text"},"encoding":{"y":{"datum":-0.064,"type":"quantitative","axis":null},"text":{"value":"P-value"}}}]},
    {"data":{"name":"rowsB"},"mark":{"type":"text"},"encoding":{"y":{"field":"rank","type":"quantitative","axis":null},"text":{"field":"p"}}}]},
  {"width":73,"height":293,"layer":[
    {"data":{"values":[{}]},"layer":[
      {"mark":{"type":"rule","strokeWidth":2,"strokeCap":"square"},"encoding":{"y":{"datum":-0.665,"type":"quantitative","scale":{"domain":[-0.665,8.37],"reverse":true,"nice":false,"zero":false},"axis":null}}},
      {"mark":{"type":"rule","strokeWidth":1.5,"strokeCap":"square"},"encoding":{"y":{"datum":0.445,"type":"quantitative","axis":null}}},
      {"mark":{"type":"rule","strokeWidth":2,"strokeCap":"square"},"encoding":{"y":{"datum":8.37,"type":"quantitative","axis":null}}},
      {"mark":{"type":"text","lineHeight":18},"encoding":{"y":{"datum":-0.326,"type":"quantitative","axis":null},"text":{"value":["% of","Targets"]}}}]},
    {"data":{"name":"rowsB"},"mark":{"type":"text"},"encoding":{"y":{"field":"rank","type":"quantitative","axis":null},"text":{"field":"t"}}}]},
  {"width":105.4,"height":293,"layer":[
    {"data":{"values":[{}]},"layer":[
      {"mark":{"type":"rule","strokeWidth":2,"strokeCap":"square"},"encoding":{"y":{"datum":-0.665,"type":"quantitative","scale":{"domain":[-0.665,8.37],"reverse":true,"nice":false,"zero":false},"axis":null}}},
      {"mark":{"type":"rule","strokeWidth":1.5,"strokeCap":"square"},"encoding":{"y":{"datum":0.445,"type":"quantitative","axis":null}}},
      {"mark":{"type":"rule","strokeWidth":2,"strokeCap":"square"},"encoding":{"y":{"datum":8.37,"type":"quantitative","axis":null}}},
      {"mark":{"type":"text","lineHeight":18},"encoding":{"y":{"datum":-0.326,"type":"quantitative","axis":null},"text":{"value":["% of","Background"]}}}]},
    {"data":{"name":"rowsB"},"mark":{"type":"text"},"encoding":{"y":{"field":"rank","type":"quantitative","axis":null},"text":{"field":"bg"}}}]},
  {"width":76.2,"height":293,"layer":[
    {"data":{"values":[{}]},"layer":[
      {"mark":{"type":"rule","strokeWidth":2,"strokeCap":"square"},"encoding":{"y":{"datum":-0.665,"type":"quantitative","scale":{"domain":[-0.665,8.37],"reverse":true,"nice":false,"zero":false},"axis":null}}},
      {"mark":{"type":"rule","strokeWidth":1.5,"strokeCap":"square"},"encoding":{"y":{"datum":0.445,"type":"quantitative","axis":null}}},
      {"mark":{"type":"rule","strokeWidth":2,"strokeCap":"square"},"encoding":{"y":{"datum":8.37,"type":"quantitative","axis":null}}},
      {"mark":{"type":"text"},"encoding":{"y":{"datum":-0.064,"type":"quantitative","axis":null},"text":{"value":"Best Match"}}}]},
    {"data":{"name":"rowsB"},"mark":{"type":"text"},"encoding":{"y":{"field":"rank","type":"quantitative","axis":null},"text":{"field":"m"}}}]},
  {"width":58,"height":293,"layer":[
    {"data":{"values":[{}]},"layer":[
      {"mark":{"type":"rule","strokeWidth":2,"strokeCap":"square"},"encoding":{"y":{"datum":-0.665,"type":"quantitative","scale":{"domain":[-0.665,8.37],"reverse":true,"nice":false,"zero":false},"axis":null}}},
      {"mark":{"type":"rule","strokeWidth":1.5,"strokeCap":"square"},"encoding":{"y":{"datum":0.445,"type":"quantitative","axis":null}}},
      {"mark":{"type":"rule","strokeWidth":2,"strokeCap":"square"},"encoding":{"y":{"datum":8.37,"type":"quantitative","axis":null}}},
      {"mark":{"type":"text"},"encoding":{"y":{"datum":-0.064,"type":"quantitative","axis":null},"text":{"value":"E-value"}}}]},
    {"data":{"name":"rowsB"},"mark":{"type":"text"},"encoding":{"y":{"field":"rank","type":"quantitative","axis":null},"text":{"field":"e"}}}]},
  {"width":23.1,"height":293,"data":{"values":[{}]},"layer":[
      {"mark":{"type":"rule","strokeWidth":2,"strokeCap":"square"},"encoding":{"y":{"datum":-0.665,"type":"quantitative","scale":{"domain":[-0.665,8.37],"reverse":true,"nice":false,"zero":false},"axis":null}}},
      {"mark":{"type":"rule","strokeWidth":1.5,"strokeCap":"square"},"encoding":{"y":{"datum":0.445,"type":"quantitative","axis":null}}},
      {"mark":{"type":"rule","strokeWidth":2,"strokeCap":"square"},"encoding":{"y":{"datum":8.37,"type":"quantitative","axis":null}}}]}
 ]}
]
}
